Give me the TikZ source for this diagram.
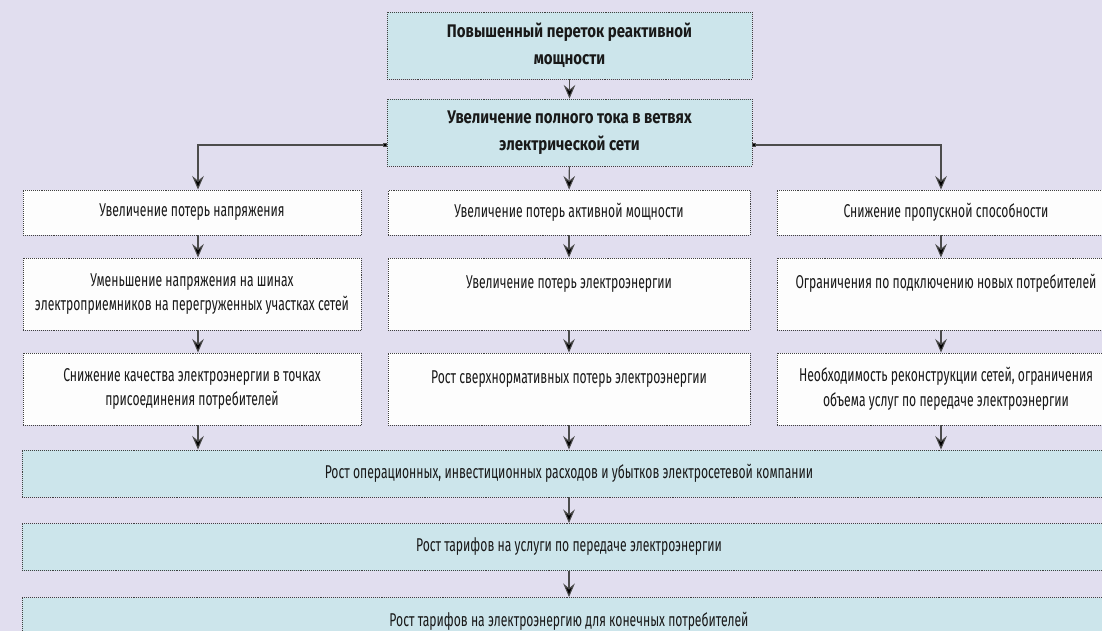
\documentclass[tikz,border=0pt]{standalone}
\usepackage{fontspec}
\setmainfont[FakeStretch=0.655]{Fira Sans}
\newfontfamily\headfont[FakeStretch=0.82]{Fira Sans}
\usetikzlibrary{positioning, arrows.meta}

\definecolor{bgviolet}{RGB}{225,222,239}
\definecolor{boxblue}{RGB}{204,229,235}
\definecolor{boxwhite}{RGB}{253,253,253}

\begin{document}
\begin{tikzpicture}[
    every node/.style = {font = \fontsize{13.2}{17.5}\selectfont, text = black!90},
    edge/.style       = {draw = black!75, line width = 0.6pt, dash pattern = on 0.6pt off 0.8pt},
    cause/.style      = {edge, fill = boxblue, minimum height = 16.75mm, minimum width = 91.25mm, align = center, font = \headfont\fontsize{13}{19}\selectfont\bfseries},
    effect/.style     = {edge, fill = boxwhite, minimum width = 84.5mm, align = center},
    result/.style     = {edge, fill = boxblue, minimum height = 11.75mm, minimum width = 273.5mm, align = center},
    arr/.style        = {-{Stealth[length=3.4mm, width=2.9mm, inset=1.2mm, fill=black]}, draw = black!70, line width = 0.75pt},
    branch/.style     = {{Square[length=1mm, width=1mm, fill=black]}-{Stealth[length=3.4mm, width=2.9mm, inset=1.2mm, fill=black]}, draw = black!70, line width = 0.75pt},
]

% ---------- canvas ----------
\fill[bgviolet] (0,0) rectangle (27.55,-15.775);
\useasboundingbox (0,0) rectangle (27.55,-15.775);

% ---------- top chain ----------
\node[cause] (flow) at (14.2375, -1.1375) {Повышенный переток реактивной\\мощности};
\node[cause] (curr) at (14.2375, -3.3125) {Увеличение полного тока в ветвях\\электрической сети};

% ---------- three columns ----------
\node[effect, minimum height = 11.25mm]                         (volt1) at ( 4.8,   -5.3125) {Увеличение потерь напряжения};
\node[effect, minimum height = 11.25mm, minimum width = 90.5mm] (act1)  at (14.225, -5.3125) {Увеличение потерь активной мощности};
\node[effect, minimum height = 11.25mm]                         (cap1)  at (23.65,  -5.3125) {Снижение пропускной способности};

\node[effect, minimum height = 18mm]                         (volt2) at ( 4.8,   -7.35) {Уменьшение напряжения на шинах\\электроприемников на перегруженных участках сетей};
\node[effect, minimum height = 18mm, minimum width = 90.5mm] (act2)  at (14.225, -7.35) {Увеличение потерь электроэнергии\\\mbox{}};
\node[effect, minimum height = 18mm]                         (cap2)  at (23.65,  -7.35) {Ограничения по подключению новых потребителей\\\mbox{}};

\node[effect, minimum height = 18mm]                         (volt3) at ( 4.8,   -9.725) {Снижение качества электроэнергии в точках\\присоединения потребителей};
\node[effect, minimum height = 18mm, minimum width = 90.5mm] (act3)  at (14.225, -9.725) {Рост сверхнормативных потерь электроэнергии\\\mbox{}};
\node[effect, minimum height = 18mm]                         (cap3)  at (23.65,  -9.725) {Необходимость реконструкции сетей, ограничения\\объема услуг по передаче электроэнергии};

% ---------- bottom chain ----------
\node[result] (costs)  at (14.225, -11.8375) {Рост операционных, инвестиционных расходов и убытков электросетевой компании};
\node[result] (tariff) at (14.225, -13.675)  {Рост тарифов на услуги по передаче электроэнергии};
\node[result] (price)  at (14.225, -15.525)  {Рост тарифов на электроэнергию для конечных потребителей};

% ---------- arrow columns ----------
\coordinate (lcol) at ( 4.95, 0);
\coordinate (rcol) at (23.525, 0);

\draw[arr] (flow) -- (curr);
\draw[arr] (curr) -- (act1);
\draw[branch] ([yshift=-3.125mm]curr.west) -| (lcol |- volt1.north);
\draw[branch] ([yshift=-3.125mm]curr.east) -| (rcol |- cap1.north);

\draw[arr] (lcol |- volt1.south) -- (lcol |- volt2.north);
\draw[arr] (lcol |- volt2.south) -- (lcol |- volt3.north);
\draw[arr] (lcol |- volt3.south) -- (lcol |- costs.north);

\draw[arr] (act1) -- (act2);
\draw[arr] (act2) -- (act3);
\draw[arr] (act3) -- (act3 |- costs.north);

\draw[arr] (rcol |- cap1.south) -- (rcol |- cap2.north);
\draw[arr] (rcol |- cap2.south) -- (rcol |- cap3.north);
\draw[arr] (rcol |- cap3.south) -- (rcol |- costs.north);

\draw[arr] (costs) -- (tariff);
\draw[arr] (tariff) -- (price);

\end{tikzpicture}
\end{document}
